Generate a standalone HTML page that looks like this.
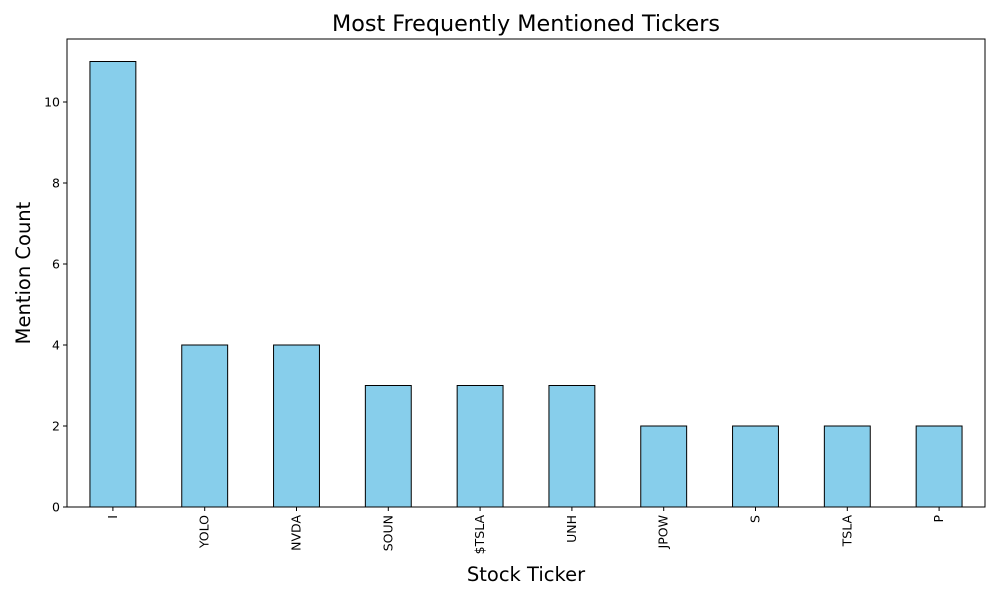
<!DOCTYPE html>
<html><head><meta charset="utf-8"><style>
body{margin:0;background:#fff;}
svg{font-family:"DejaVu Sans","Liberation Sans",sans-serif;}
</style></head><body>
<svg id="chart" width="1000" height="600">
<rect width="1000" height="600" fill="#fff"/>
<text x="526" y="31" font-size="22.3" text-anchor="middle">Most Frequently Mentioned Tickers</text>
<g id="bars"></g>
<g id="yticks"></g>
<g id="xticks"></g>
<rect x="67" y="39" width="918" height="468" fill="none" stroke="#000" stroke-width="1"/>
<text x="526" y="581" font-size="19.5" text-anchor="middle">Stock Ticker</text>
<text transform="translate(30,273) rotate(-90)" font-size="19.5" text-anchor="middle">Mention Count</text>
</svg>
<script>
const categories=["I","YOLO","NVDA","SOUN","$TSLA","UNH","JPOW","S","TSLA","P"];
const values=[11,4,4,3,3,3,2,2,2,2];
const yTicks=[0,2,4,6,8,10];
const X0=67,X1=985,Y0=507,PX=40.5;
const ns="http://www.w3.org/2000/svg";
const step=(X1-X0)/categories.length;
const xc=i=>X0+step*(i+0.5);
const y=v=>Y0-v*PX;
const bars=document.getElementById('bars'),xt=document.getElementById('xticks'),yt=document.getElementById('yticks');
categories.forEach((c,i)=>{
 const r=document.createElementNS(ns,'rect');
 
 
 const w=step*0.5;
 r.setAttribute('x',xc(i)-w/2);r.setAttribute('width',w);
 r.setAttribute('y',y(values[i]));r.setAttribute('height',Y0-y(values[i]));
 r.setAttribute('fill','#87ceeb');r.setAttribute('stroke','#000');r.setAttribute('stroke-width','1');
 bars.appendChild(r);
 const t=document.createElementNS(ns,'line');
 
 
 t.setAttribute('x1',xc(i));t.setAttribute('x2',xc(i));t.setAttribute('y1',Y0);t.setAttribute('y2',Y0+4);t.setAttribute('stroke','#000');
 xt.appendChild(t);
 const l=document.createElementNS(ns,'text');
 
 
 l.setAttribute('transform',`translate(${xc(i)+4},${Y0+8}) rotate(-90)`);
 l.setAttribute('text-anchor','end');l.setAttribute('font-size','12.5');
 l.textContent=c;xt.appendChild(l);
});
yTicks.forEach(v=>{
 const t=document.createElementNS(ns,'line');
 
 
 t.setAttribute('x1',X0-4);t.setAttribute('x2',X0);t.setAttribute('y1',y(v));t.setAttribute('y2',y(v));t.setAttribute('stroke','#000');
 yt.appendChild(t);
 const l=document.createElementNS(ns,'text');
 
 
 l.setAttribute('x',X0-7);l.setAttribute('y',y(v)+4.5);l.setAttribute('text-anchor','end');l.setAttribute('font-size','12.5');
 l.textContent=v;yt.appendChild(l);
});
</script>
</body></html>
